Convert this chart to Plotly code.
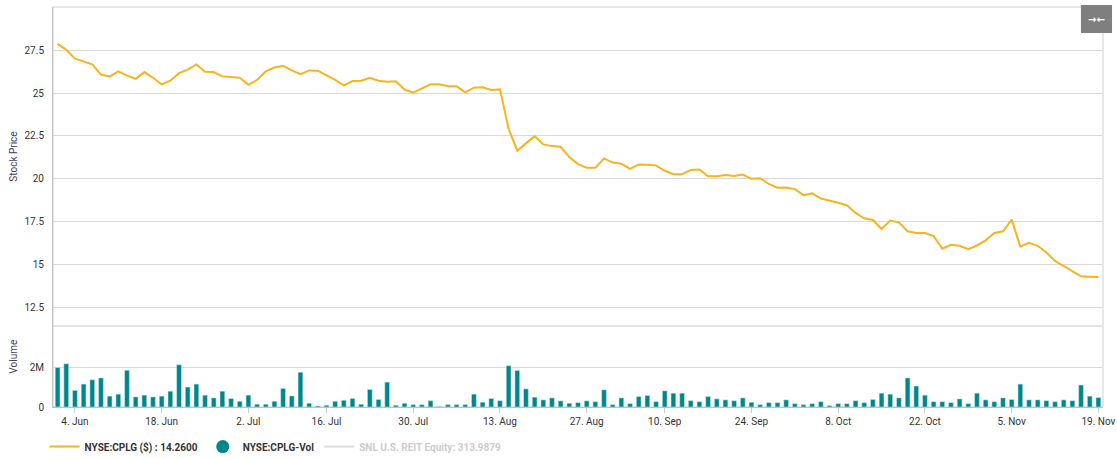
import pandas as pd
import plotly.graph_objects as go

# ---- data ----
holidays = ["2018-07-04", "2018-09-03"]
trade_dates = [d.strftime("%Y-%m-%d") for d in pd.bdate_range("2018-05-31", "2018-11-19")
               if d.strftime("%Y-%m-%d") not in holidays]

price = [27.87, 27.52, 27.0, 26.82, 26.67, 26.07, 25.97, 26.26, 26.01, 25.83,
         26.22, 25.89, 25.5, 25.72, 26.16, 26.36, 26.67, 26.24, 26.22, 25.97,
         25.91, 25.89, 25.48, 25.76, 26.26, 26.49, 26.59, 26.32, 26.1, 26.32,
         26.3, 26.05, 25.76, 25.45, 25.7, 25.72, 25.89, 25.72, 25.66, 25.68,
         25.2, 25.02, 25.27, 25.51, 25.51, 25.39, 25.39, 25.04, 25.31, 25.33,
         25.18, 25.21, 22.91, 21.63, 22.06, 22.48, 22.0, 21.9, 21.86, 21.26,
         20.85, 20.63, 20.63, 21.18, 20.94, 20.87, 20.57, 20.83, 20.81, 20.77,
         20.46, 20.26, 20.26, 20.51, 20.53, 20.14, 20.14, 20.22, 20.16, 20.24,
         19.99, 20.03, 19.69, 19.47, 19.49, 19.39, 19.04, 19.14, 18.84, 18.73,
         18.59, 18.45, 18.0, 17.69, 17.59, 17.06, 17.55, 17.45, 16.93, 16.83,
         16.83, 16.65, 15.91, 16.14, 16.08, 15.89, 16.1, 16.4, 16.83, 16.93,
         17.61, 16.03, 16.26, 16.08, 15.69, 15.2, 14.91, 14.6, 14.3, 14.28,
         14.26]

volume_m = [2.0, 2.19, 0.84, 1.16, 1.38, 1.47, 0.55, 0.65, 1.86, 0.51,
            0.6, 0.51, 0.55, 0.8, 2.14, 1.01, 1.16, 0.6, 0.46, 0.8,
            0.43, 0.29, 0.6, 0.14, 0.14, 0.29, 0.94, 0.56, 1.76, 0.19,
            0.05, 0.09, 0.29, 0.34, 0.43, 0.14, 0.89, 0.38, 1.26, 0.09,
            0.19, 0.12, 0.12, 0.32, 0.03, 0.12, 0.12, 0.12, 0.65, 0.24,
            0.43, 0.32, 2.09, 1.85, 0.92, 0.5, 0.36, 0.46, 0.31, 0.19,
            0.22, 0.31, 0.27, 0.87, 0.12, 0.46, 0.17, 0.53, 0.58, 0.27,
            0.82, 0.7, 0.7, 0.32, 0.27, 0.53, 0.41, 0.36, 0.32, 0.46,
            0.24, 0.12, 0.22, 0.22, 0.36, 0.17, 0.12, 0.17, 0.27, 0.07,
            0.17, 0.17, 0.32, 0.22, 0.38, 0.7, 0.65, 0.46, 1.47, 1.06,
            0.6, 0.27, 0.27, 0.22, 0.41, 0.17, 0.7, 0.36, 0.27, 0.46,
            0.38, 1.16, 0.36, 0.36, 0.32, 0.27, 0.36, 0.32, 1.11, 0.55,
            0.48]
volume = [v * 1e6 for v in volume_m]

tick_dates = ["2018-06-04", "2018-06-18", "2018-07-02", "2018-07-16", "2018-07-30",
              "2018-08-13", "2018-08-27", "2018-09-10", "2018-09-24", "2018-10-08",
              "2018-10-22", "2018-11-05", "2018-11-19"]
tick_labels = ["4. Jun", "18. Jun", "2. Jul", "16. Jul", "30. Jul", "13. Aug", "27. Aug",
               "10. Sep", "24. Sep", "8. Oct", "22. Oct", "5. Nov", "19. Nov"]

price_ticks = [12.5, 15, 17.5, 20, 22.5, 25, 27.5]
price_tick_labels = ["12.5", "15", "17.5", "20", "22.5", "25", "27.5"]
vol_ticks = [0, 2e6]
vol_tick_labels = ["0", "2M"]

series_names = ["NYSE:CPLG ($) : 14.2600", "NYSE:CPLG-Vol", "SNL U.S. REIT Equity: 313.9879"]

# ---- styling ----
LINE_C = "#F8B31E"
BAR_C = "#00878C"
GRID_C = "#D9D9D9"
FONT = "Roboto, Arial, sans-serif"
split = 0.2025

fig = go.Figure()
fig.add_trace(go.Scatter(x=trade_dates, y=price, mode="lines", name=series_names[0],
                         line=dict(color=LINE_C, width=2), yaxis="y"))
fig.add_trace(go.Bar(x=trade_dates, y=volume, name=series_names[1], showlegend=False,
                     marker=dict(color=BAR_C, line=dict(color="rgba(200,235,235,0.9)", width=0.6)),
                     yaxis="y2", legendgroup="vol"))
fig.add_trace(go.Scatter(x=[None], y=[None], mode="markers", name=series_names[1],
                         marker=dict(color=BAR_C, size=13, symbol="circle"),
                         legendgroup="vol", yaxis="y2"))
fig.add_trace(go.Scatter(x=[None], y=[None], mode="lines",
                         name="<span style='color:#9a9a9a'>" + series_names[2] + "</span>",
                         line=dict(color="#bbbbbb", width=2), visible="legendonly"))

fig.update_layout(
    width=1117, height=459,
    margin=dict(l=53, r=14, t=7, b=52, autoexpand=False),
    paper_bgcolor="white", plot_bgcolor="white",
    font=dict(family=FONT, size=10, color="#333333"),
    bargap=0.45,
    showlegend=True,
    legend=dict(orientation="h", x=-0.008, xanchor="left",
                yref="container", y=0.027, yanchor="middle",
                font=dict(family=FONT, size=10, color="#333333", weight="bold"),
                bgcolor="rgba(0,0,0,0)", itemwidth=30, tracegroupgap=0),
    xaxis=dict(type="category", range=[-0.53, len(trade_dates) - 0.47],
               anchor="y2", tickmode="array", tickvals=tick_dates, ticktext=tick_labels,
               showgrid=False, showline=True, linecolor="#C0C0C0", linewidth=1,
               ticks="outside", ticklen=5, tickcolor="#CCCCCC", automargin=False,
               tickfont=dict(size=10, color="#333333"), zeroline=False),
    yaxis=dict(domain=[split, 1], range=[11.4, 30.02], tickmode="array",
               tickvals=price_ticks, ticktext=price_tick_labels,
               showgrid=True, gridcolor=GRID_C, gridwidth=1, zeroline=False,
               showline=True, linecolor="#C0C0C0", ticks="", ticklabelstandoff=6,
               tickfont=dict(size=10, color="#333333"), automargin=False),
    yaxis2=dict(domain=[0, split], range=[0, 4.1e6], tickmode="array",
                tickvals=vol_ticks, ticktext=vol_tick_labels,
                showgrid=True, gridcolor=GRID_C, gridwidth=1, zeroline=False,
                showline=True, linecolor="#C0C0C0", ticks="", ticklabelstandoff=6,
                tickfont=dict(size=10, color="#333333"), automargin=False),
    shapes=[
        dict(type="rect", xref="paper", yref="paper", x0=0, x1=1, y0=0, y1=1,
             line=dict(color="#D0D0D0", width=1), fillcolor="rgba(0,0,0,0)", layer="below"),
        dict(type="line", xref="paper", yref="paper", x0=0, x1=1, y0=split, y1=split,
             line=dict(color=GRID_C, width=1.5), layer="below"),
        dict(type="rect", xref="paper", yref="paper", x0=0.979, x1=1.0086, y0=0.935, y1=1.005,
             line=dict(width=0), fillcolor="#7F7F7F", layer="above"),
    ],
    annotations=[
        dict(text="Stock Price", xref="paper", yref="paper", x=-0.0371, y=0.626,
             textangle=-90, showarrow=False, font=dict(size=10, color="#3D3D66"),
             xanchor="center", yanchor="middle"),
        dict(text="Volume", xref="paper", yref="paper", x=-0.0371, y=0.126,
             textangle=-90, showarrow=False, font=dict(size=10, color="#3D3D66"),
             xanchor="center", yanchor="middle"),
        dict(text="<b>→←</b>", xref="paper", yref="paper", x=0.9938, y=0.97,
             showarrow=False, font=dict(size=10, color="white", family="DejaVu Sans"),
             xanchor="center", yanchor="middle"),
    ],
)

fig.write_html("out.html", config={"displayModeBar": False},
               post_script="document.body.style.margin='0';document.body.style.padding='0';")
